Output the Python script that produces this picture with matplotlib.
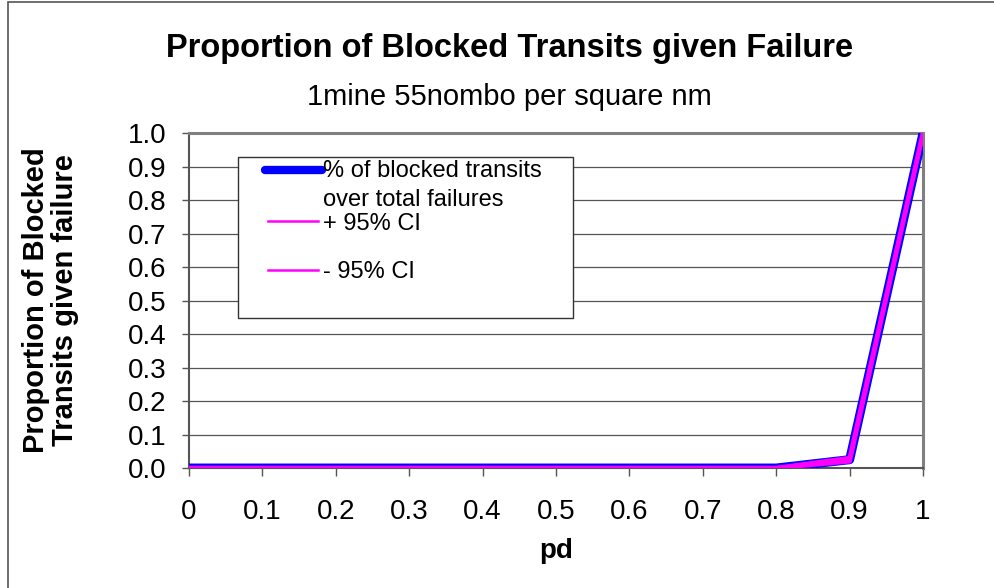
import numpy as np
import matplotlib.pyplot as plt
from matplotlib.patches import Rectangle

pd_vals = [0, 0.1, 0.2, 0.3, 0.4, 0.5, 0.6, 0.7, 0.8, 0.9, 1.0]
blocked = [0, 0, 0, 0, 0, 0, 0, 0, 0, 0.025, 1.0]
ci_plus = [0, 0, 0, 0, 0, 0, 0, 0, 0, 0.03, 1.0]
ci_minus = [0, 0, 0, 0, 0, 0, 0, 0, 0, 0.02, 1.0]
x_labels = ['0', '0.1', '0.2', '0.3', '0.4', '0.5', '0.6', '0.7', '0.8', '0.9', '1']
y_ticks = np.round(np.arange(0, 1.01, 0.1), 1)

plt.rcParams['font.family'] = ['Liberation Sans', 'DejaVu Sans']

fig = plt.figure(figsize=(9.95, 5.88), dpi=100)
ax = fig.add_axes([0.19, 0.204, 0.7377, 0.5698])

# outer frame of the figure
fig.patches.append(Rectangle((8 / 995, -0.1), 1.2, 1 - 2 / 588 + 0.1,
                             transform=fig.transFigure, fill=False,
                             edgecolor='#555555', linewidth=1.2))

ax.grid(axis='y', color='#555555', linewidth=0.9, zorder=0)
ax.plot(pd_vals, blocked, color='#0000ff', linewidth=6.5, zorder=3)
ax.plot(pd_vals, ci_plus, color='#ff00ff', linewidth=3.2, zorder=4)
ax.plot(pd_vals, ci_minus, color='#ff00ff', linewidth=3.2, zorder=4)

ax.set_xlim(0, 1)
ax.set_ylim(0, 1)
ax.set_xticks(pd_vals)
ax.set_xticklabels(x_labels, fontsize=20)
ax.set_yticks(y_ticks)
ax.set_yticklabels(['%.1f' % v for v in y_ticks], fontsize=20)
ax.tick_params(axis='x', direction='out', length=6, width=1, color='#555555', pad=16)
ax.tick_params(axis='y', direction='out', length=5, width=1, color='#555555', pad=11)

for s in ['top', 'right']:
    ax.spines[s].set_color('#808080')
    ax.spines[s].set_linewidth(2.2)
for s in ['left', 'bottom']:
    ax.spines[s].set_color('#555555')
    ax.spines[s].set_linewidth(1.5)

ax.set_xlabel('pd', fontsize=20, fontweight='bold')
ax.xaxis.set_label_coords(0.5, -0.21)
ax.set_ylabel('Proportion of Blocked\nTransits given failure', fontsize=21,
              fontweight='bold', linespacing=1.05)
ax.yaxis.set_label_coords(-0.15, 0.5)

fig.text(0.512, 0.918, 'Proportion of Blocked Transits given Failure',
         ha='center', va='center', fontsize=23.5, fontweight='bold')
fig.text(0.512, 0.835, '1mine 55nombo per square nm', ha='center', va='center', fontsize=21)

# legend box drawn by hand to follow the original layout
ax.add_patch(Rectangle((0.0668, 0.448), 0.456, 0.48, transform=ax.transAxes,
                       facecolor='white', edgecolor='#333333', linewidth=1.0, zorder=5))
ax.plot([0.1035, 0.181], [0.890, 0.890], transform=ax.transAxes, color='#0000ff',
        linewidth=6, solid_capstyle='round', clip_on=False, zorder=6)
ax.text(0.1826, 0.843, '% of blocked transits\nover total failures', transform=ax.transAxes,
        fontsize=17, va='center', ha='left', linespacing=1.38, zorder=6)
ax.plot([0.1076, 0.1757], [0.737, 0.737], transform=ax.transAxes, color='#ff00ff',
        linewidth=1.8, clip_on=False, zorder=6)
ax.text(0.1826, 0.727, '+ 95% CI', transform=ax.transAxes, fontsize=17,
        va='center', ha='left', zorder=6)
ax.plot([0.1076, 0.1757], [0.591, 0.591], transform=ax.transAxes, color='#ff00ff',
        linewidth=1.8, clip_on=False, zorder=6)
ax.text(0.1826, 0.585, '- 95% CI', transform=ax.transAxes, fontsize=17,
        va='center', ha='left', zorder=6)

plt.savefig('out.png', dpi=100)
